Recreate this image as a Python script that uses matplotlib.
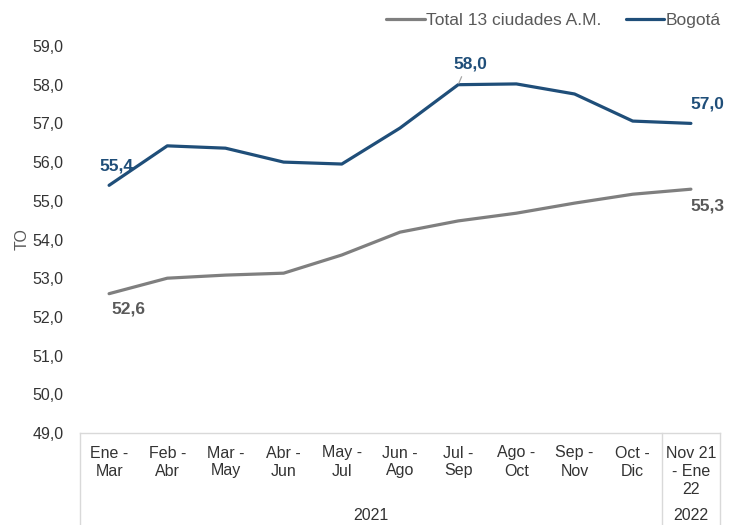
import matplotlib.pyplot as plt
import matplotlib.transforms as mtransforms

plt.rcParams['font.family'] = ['Liberation Sans', 'DejaVu Sans']

periodos = ['Ene -\nMar', 'Feb -\nAbr', 'Mar -\nMay', 'Abr -\nJun', 'May -\nJul',
            'Jun -\nAgo', 'Jul -\nSep', 'Ago -\nOct', 'Sep -\nNov', 'Oct -\nDic',
            'Nov 21\n- Ene\n22']
total_13 = [52.6, 53.0, 53.08, 53.13, 53.6, 54.19, 54.48, 54.68, 54.94, 55.17, 55.3]
bogota = [55.4, 56.42, 56.36, 56.0, 55.95, 56.88, 58.0, 58.02, 57.76, 57.06, 57.0]
anios = ['2021', '2022']
n_2021 = 10

GRIS = '#7f7f7f'
AZUL = '#1f4e79'
TXT = '#595959'
FS = 11.5

fig = plt.figure(figsize=(7.39, 5.25), dpi=100)
ax = fig.add_axes([80/739, 1-433/525, 640/739, 387/525])

x = list(range(len(periodos)))
ax.plot(x, total_13, color=GRIS, lw=2.3, solid_capstyle='round', label='Total 13 ciudades A.M.')
ax.plot(x, bogota, color=AZUL, lw=2.3, solid_capstyle='round', label='Bogotá')

ax.set_xlim(-0.5, len(periodos) - 0.5)
ax.set_ylim(49, 59)
ax.set_yticks(range(49, 60))
ax.set_yticklabels([f'{v},0' for v in range(49, 60)], fontsize=FS, color='#333333')
ax.set_xticks(x)
ax.set_xticklabels(periodos, fontsize=FS, color='#333333', linespacing=1.25, va='top')
ax.tick_params(length=0)
ax.tick_params(axis='y', pad=12)
ax.tick_params(axis='x', pad=9)
for s in ax.spines.values():
    s.set_visible(False)
ax.set_ylabel('TO', color=TXT, fontsize=FS, labelpad=2)

# caja del eje de categorias en dos niveles
tr = mtransforms.blended_transform_factory(ax.transData, ax.transAxes)
c = '#d9d9d9'
ax.plot([-0.5, 10.5], [0, 0], color=c, lw=1, transform=tr, clip_on=False)
for xv in [-0.5, n_2021 - 0.5, len(periodos) - 0.5]:
    ax.plot([xv, xv], [0, -0.3], color=c, lw=1, transform=tr, clip_on=False)
ax.text((n_2021 - 1) / 2, -0.212, anios[0], transform=tr, ha='center', va='center',
        fontsize=FS, color='#333333')
ax.text(n_2021, -0.212, anios[1], transform=tr, ha='center', va='center',
        fontsize=FS, color='#333333')

# etiquetas de datos
fw = 'bold'
FL = 12.5


def etiqueta(i, serie, dx, dy, color, flecha=False):
    kw = {}
    if flecha:
        kw['arrowprops'] = dict(arrowstyle='-', color='#a6a6a6', lw=0.9, shrinkA=2, shrinkB=1,
                                relpos=(0.3, 0.0))
    ax.annotate(f'{serie[i]:.1f}'.replace('.', ','), (i, serie[i]), xytext=(dx, dy),
                textcoords='offset points', ha='center', va='center', color=color,
                fontsize=FL, fontweight=fw, **kw)


etiqueta(0, bogota, 5, 14, AZUL)
etiqueta(0, total_13, 14, -11, TXT)
etiqueta(6, bogota, 9, 15, AZUL, flecha=True)
etiqueta(10, bogota, 12, 14, AZUL)
etiqueta(10, total_13, 12, -12, TXT)

leg = fig.legend(loc='center right', bbox_to_anchor=(721/739, 1-20/525), ncol=2, frameon=False,
                 fontsize=12.5, handlelength=2.2, handletextpad=0.1, columnspacing=1.4,
                 borderaxespad=0, borderpad=0)
for t in leg.get_texts():
    t.set_color(TXT)

fig.savefig('out.png', dpi=100)
